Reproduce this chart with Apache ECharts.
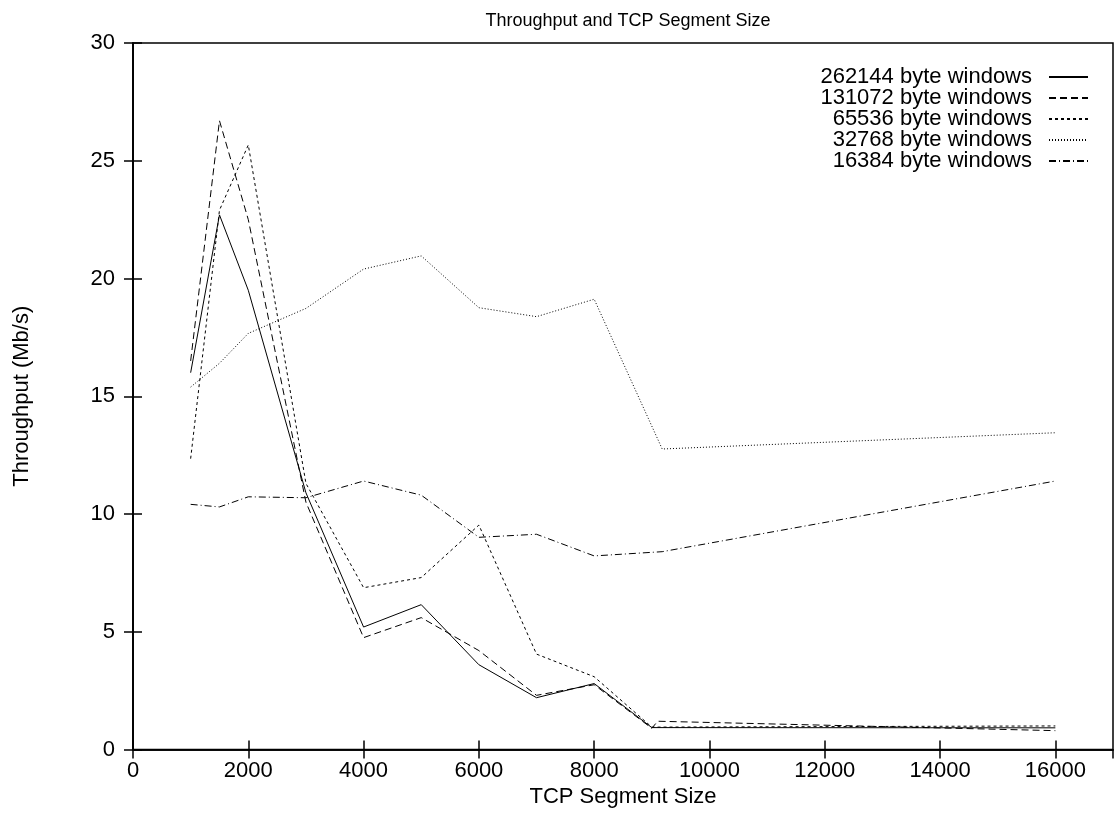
<!DOCTYPE html>
<html>
<head>
<meta charset="utf-8">
<script src="https://cdn.jsdelivr.net/npm/echarts@6/dist/echarts.min.js"></script>
<style>html,body{margin:0;padding:0;background:#fff;}#c{width:1119px;height:819px;}</style>
</head>
<body>
<div id="c"></div>
<script>
const seriesNames = ['262144 byte windows','131072 byte windows','65536 byte windows','32768 byte windows','16384 byte windows'];
const s262144 = [[1000,16.0],[1500,22.7],[2000,19.5],[3000,10.9],[4000,5.2],[5000,6.15],[6000,3.6],[7000,2.2],[8000,2.8],[9000,0.93],[16000,0.92]];
const s131072 = [[1000,16.5],[1500,26.7],[2000,22.5],[3000,10.5],[4000,4.75],[5000,5.6],[6000,4.2],[7000,2.3],[8000,2.75],[9000,0.9],[9100,1.2],[16000,0.8]];
const s65536  = [[1000,12.35],[1500,22.9],[2000,25.67],[3000,11.3],[4000,6.87],[5000,7.3],[6000,9.53],[7000,4.05],[8000,3.09],[9000,0.95],[16000,1.0]];
const s32768  = [[1000,15.39],[1500,16.4],[2000,17.67],[3000,18.73],[4000,20.4],[5000,20.96],[6000,18.76],[7000,18.38],[8000,19.12],[9180,12.76],[16000,13.45]];
const s16384  = [[1000,10.41],[1500,10.3],[2000,10.73],[3000,10.69],[4000,11.4],[5000,10.8],[6000,9.01],[7000,9.14],[8000,8.22],[9180,8.4],[16000,11.4]];
const seriesData = [s262144, s131072, s65536, s32768, s16384];
const dashTypes = ['solid', [7,4], [3,3], [1,2], [7,3,1,3]];

const FONT = 'Liberation Sans, Arial, Helvetica, sans-serif';
const FS = 22;
const chart = echarts.init(document.getElementById('c'));

const legendRows = [77, 98, 119, 140, 161];
const legends = seriesNames.map((n, i) => ({
  data: [n],
  right: 30,
  top: legendRows[i] - 11,
  orient: 'vertical',
  align: 'right',
  itemWidth: 39,
  itemHeight: 14,
  selectedMode: false,
  padding: 0,
  itemStyle: {color: 'rgba(0,0,0,0)', borderWidth: 0, opacity: 0},
  textStyle: {fontFamily: FONT, fontSize: FS, color: '#000', padding: [0, 12, 0, 0]}
}));

const option = {
  animation: false,
  backgroundColor: '#fff',
  title: {
    text: 'Throughput and TCP Segment Size',
    left: 623, top: 7, textAlign: 'center',
    textStyle: {fontFamily: FONT, fontSize: 18, fontWeight: 'normal', color: '#000'}
  },
  legend: legends,
  grid: {left: 133, right: 6, top: 43, bottom: 69.5, show: true, borderColor: '#000', borderWidth: 1.5},
  xAxis: [{
    type: 'value', min: 0, max: 17000, interval: 2000,
    name: 'TCP Segment Size', nameLocation: 'middle', nameGap: 31,
    nameTextStyle: {fontFamily: FONT, fontSize: FS, color: '#000'},
    axisLine: {show: true, lineStyle: {color: '#000', width: 1.5}},
    axisTick: {show: true, inside: true, length: 9, lineStyle: {color: '#000', width: 1.5}},
    axisLabel: {fontFamily: FONT, fontSize: FS, color: '#000', margin: 10, showMaxLabel: false, formatter: v => String(v)},
    splitLine: {show: false}
  }, {
    type: 'value', min: 0, max: 17000, interval: 2000, position: 'top',
    axisLine: {show: true, lineStyle: {color: '#000', width: 1.5}},
    axisTick: {show: true, inside: true, length: 9, lineStyle: {color: '#000', width: 1.5}},
    axisLabel: {show: false}, splitLine: {show: false}
  }],
  yAxis: [{
    type: 'value', min: 0, max: 30, interval: 5,
    name: 'Throughput (Mb/s)', nameLocation: 'middle', nameGap: 100, nameRotate: 90,
    nameTextStyle: {fontFamily: FONT, fontSize: FS, color: '#000'},
    axisLine: {show: true, lineStyle: {color: '#000', width: 1.5}},
    axisTick: {show: true, inside: true, length: 9, lineStyle: {color: '#000', width: 1.5}},
    axisLabel: {fontFamily: FONT, fontSize: FS, color: '#000', margin: 18},
    splitLine: {show: false}
  }, {
    type: 'value', min: 0, max: 30, interval: 5, position: 'right',
    axisLine: {show: true, lineStyle: {color: '#000', width: 1.5}},
    axisTick: {show: true, inside: true, length: 9, lineStyle: {color: '#000', width: 1.5}},
    axisLabel: {show: false}, splitLine: {show: false}
  }],
  series: seriesNames.map((n, i) => ({
    name: n, type: 'line', data: seriesData[i],
    xAxisIndex: 0, yAxisIndex: 0,
    symbol: 'none', showSymbol: false,
    lineStyle: {color: '#000', width: 1, type: dashTypes[i]},
    itemStyle: {color: '#000'},
    emphasis: {disabled: true}
  }))
};
chart.setOption(option);
</script>
</body>
</html>
